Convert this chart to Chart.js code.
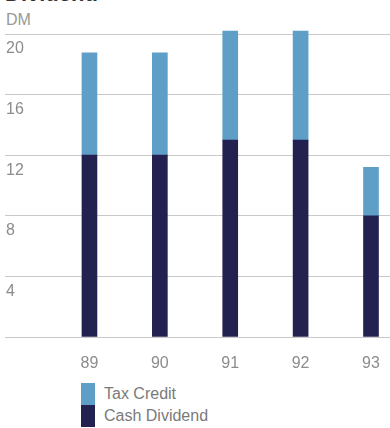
<!DOCTYPE html>
<html>
<head>
<meta charset="utf-8">
<script src="https://cdn.jsdelivr.net/npm/chart.js@4/dist/chart.umd.min.js"></script>
<style>
  html, body { margin: 0; padding: 0; background: #fff; }
  body { width: 390px; height: 428px; overflow: hidden; position: relative; font-family: "Liberation Sans", Arial, sans-serif; }
  #title { position: absolute; left: 5px; top: -17px; font-size: 22px; line-height: 22px; font-weight: bold; color: #333; }
  #unit { position: absolute; left: 6px; top: 12px; font-size: 16px; line-height: 16px; color: #999; }
  #wrap { position: absolute; left: 0; top: 0; width: 390px; height: 370px; }
  #legend { position: absolute; left: 81px; top: 383px; }
  .item { display: flex; align-items: center; height: 22px; }
  .swatch { width: 14px; height: 22px; margin-right: 9px; }
  .item span { font-size: 16px; color: #7a7a7a; }
</style>
</head>
<body>
<div id="title">Dividend</div>
<div id="unit">DM</div>
<div id="wrap"><canvas id="chart" width="390" height="370"></canvas></div>
<div id="legend"></div>
<script>
// Dividend per share, DM
const years = [89, 90, 91, 92, 93];
const cashDividend = [12, 12, 13, 13, 8];
const taxCredit = [6.75, 6.75, 7.2, 7.2, 3.2];
const yTicks = [0, 4, 8, 12, 16, 20];

const tickColor = '#8c8c8c';
const tickFont = { family: '"Liberation Sans", Arial, sans-serif', size: 16 };

const chart = new Chart(document.getElementById('chart'), {
    type: 'bar',
    data: {
        labels: years,
        datasets: [
            { label: 'Cash Dividend', data: cashDividend, backgroundColor: '#23214f' },
            { label: 'Tax Credit', data: taxCredit, backgroundColor: '#5f9ec7' }
        ]
    },
    options: {
        responsive: false,
        devicePixelRatio: 1,
        animation: false,
        barThickness: 15,
        clip: false,
        layout: { padding: { top: 34, left: 0, right: 0, bottom: 0 } },
        plugins: { legend: { display: false }, tooltip: { enabled: false } },
        scales: {
            x: {
                type: 'linear',
                stacked: true,
                offset: false,
                min: 87.8,
                max: 93.27,
                grid: { display: false, offset: false },
                border: { display: false },
                afterBuildTicks: axis => { axis.ticks = years.map(v => ({ value: v })); },
                afterFit: axis => { axis.height = 33; },
                ticks: { color: tickColor, font: tickFont, padding: 9, callback: v => String(v) }
            },
            y: {
                stacked: true,
                min: 0,
                max: 20,
                grid: { color: '#c9c9c9', lineWidth: 1, drawTicks: false },
                border: { display: false },
                afterBuildTicks: axis => { axis.ticks = yTicks.map(v => ({ value: v })); },
                afterFit: axis => { axis.width = 5; },
                ticks: {
                    mirror: true,
                    padding: 1,
                    labelOffset: 15,
                    color: tickColor,
                    font: tickFont,
                    callback: v => (v === 0 ? '' : String(v))
                }
            }
        }
    }
});

// Legend: top item first, swatches stacked into one column
const legend = document.getElementById('legend');
chart.data.datasets.slice().reverse().forEach(ds => {
    const row = document.createElement('div');
    row.className = 'item';
    const sw = document.createElement('div');
    sw.className = 'swatch';
    sw.style.background = ds.backgroundColor;
    const label = document.createElement('span');
    label.textContent = ds.label;
    row.appendChild(sw);
    row.appendChild(label);
    legend.appendChild(row);
});
</script>
</body>
</html>
